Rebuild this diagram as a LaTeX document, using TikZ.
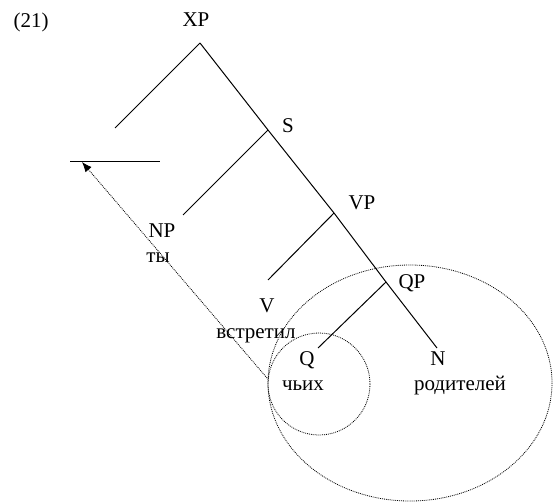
\documentclass[tikz,border=0pt]{standalone}
\usepackage{fontspec}
\setmainfont{Liberation Serif}
\usetikzlibrary{arrows.meta}

\begin{document}
\begin{tikzpicture}[x=1pt, y=-1pt,
    lbl/.style={anchor=base, inner sep=0pt, font=\fontsize{21}{24}\selectfont},
    branch/.style={line width=1pt},
    dots/.style={line width=0.8pt, dash pattern=on 0.9pt off 1pt}]
    \useasboundingbox (0,0) rectangle (553,503);
    % Nhãn cây
    \node[lbl] (ex) at (31,28) {(21)};
    \node[lbl] (xp) at (196,27) {XP};
    \node[lbl] (s) at (288,132) {S};
    \node[lbl] (vp) at (362,209) {VP};
    \node[lbl] (np) at (162,237) {NP};
    \node[lbl] (ty) at (158,262) {ты};
    \node[lbl] (v) at (267,312) {V};
    \node[lbl] (vstretil) at (256,338) {встретил};
    \node[lbl] (qp) at (412,288) {QP};
    \node[lbl] (q) at (307,365) {Q};
    \node[lbl] (chikh) at (303,390) {чьих};
    \node[lbl] (n) at (438,365) {N};
    \node[lbl] (roditelej) at (460,390) {родителей};
    % Các điểm nút của cây
    \coordinate (top) at (200,43);
    \coordinate (spec) at (115,128);
    \coordinate (sj) at (268,130);
    \coordinate (npend) at (183,215);
    \coordinate (vpj) at (334,213);
    \coordinate (vend) at (268,280);
    \coordinate (qpj) at (386,282);
    \coordinate (qend) at (318,348);
    \coordinate (nend) at (437,348);
    \coordinate (tl) at (70,161);
    \coordinate (tr) at (160,161);
    \coordinate (tip) at (82,162);
    \coordinate (tail) at (267,378);
    % Các nhánh
    \draw[branch] (top) -- (spec);
    \draw[branch] (top) -- (sj) -- (vpj) -- (qpj) -- (nend);
    \draw[branch] (sj) -- (npend);
    \draw[branch] (vpj) -- (vend);
    \draw[branch] (qpj) -- (qend);
    % Vết (vị trí trống)
    \draw[branch] (tl) -- (tr);
    % Mũi tên di chuyển
    \draw[dots, -{Latex[length=10pt,width=8pt]}] (tail) -- (tip);
    % Các vùng chấm
    \draw[dots] (319,384) circle (51);
    \draw[dots] (410,383) ellipse (142 and 118);
\end{tikzpicture}
\end{document}
